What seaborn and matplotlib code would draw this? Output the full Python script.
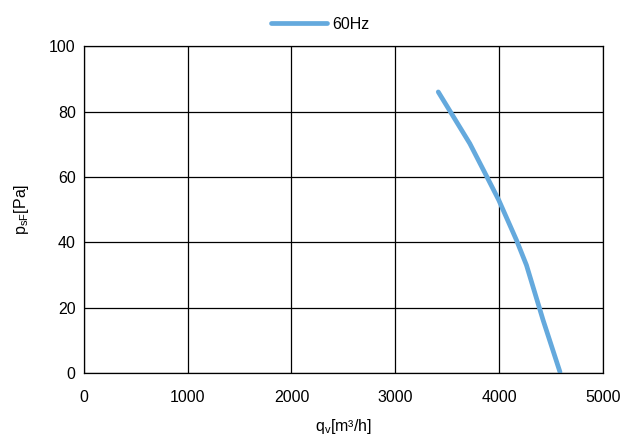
import pandas as pd
import matplotlib.pyplot as plt
import seaborn as sns

# curve
flow = [3415, 3542, 3719, 3860, 3998, 4168, 4265, 4425, 4588]
pressure = [86.0, 79.4, 70.2, 61.5, 52.9, 40.7, 33.0, 16.2, 0.3]
series = ['60Hz'] * len(flow)

x_ticks = [0, 1000, 2000, 3000, 4000, 5000]
y_ticks = [0, 20, 40, 60, 80, 100]

df = pd.DataFrame({'q': flow, 'p': pressure, 'series': series})

sns.set_style('white')
fonts = ['Liberation Sans Narrow', 'DejaVu Sans Condensed', 'Liberation Sans']
plt.rcParams['font.family'] = fonts
plt.rcParams['mathtext.fontset'] = 'custom'
plt.rcParams['mathtext.rm'] = 'Liberation Sans'
plt.rcParams['text.color'] = 'black'
plt.rcParams['axes.labelcolor'] = 'black'
plt.rcParams['xtick.color'] = 'black'
plt.rcParams['ytick.color'] = 'black'

fig = plt.figure(figsize=(6.22, 4.44), dpi=100)
ax = fig.add_axes([0.135, 0.160, 0.834, 0.736])

sns.lineplot(data=df, x='q', y='p', hue='series', palette=['#64a9dd'],
             linewidth=3.4, sort=False, ax=ax)

ax.set_xlim(0, 5000)
ax.set_ylim(0, 100)
ax.set_xticks(x_ticks)
ax.set_yticks(y_ticks)
ax.tick_params(labelsize=11.5, length=0)
ax.tick_params(axis='x', pad=12)
ax.tick_params(axis='y', pad=6)
ax.grid(True, color='black', linewidth=0.9)
for s in ax.spines.values():
    s.set_color('black')
    s.set_linewidth(0.9)

ax.set_xlabel(r'q$_{\mathregular{v}}$[m³/h]', fontsize=11.5, labelpad=9)
ax.set_ylabel(r'p$_{\mathregular{sF}}$[Pa]', fontsize=11.5, labelpad=13)

ax.legend(loc='lower center', bbox_to_anchor=(0.455, 1.0), frameon=False,
          fontsize=11.5, handlelength=3.5, handletextpad=0.3, borderaxespad=0.5)

fig.savefig('out.png', dpi=100)
